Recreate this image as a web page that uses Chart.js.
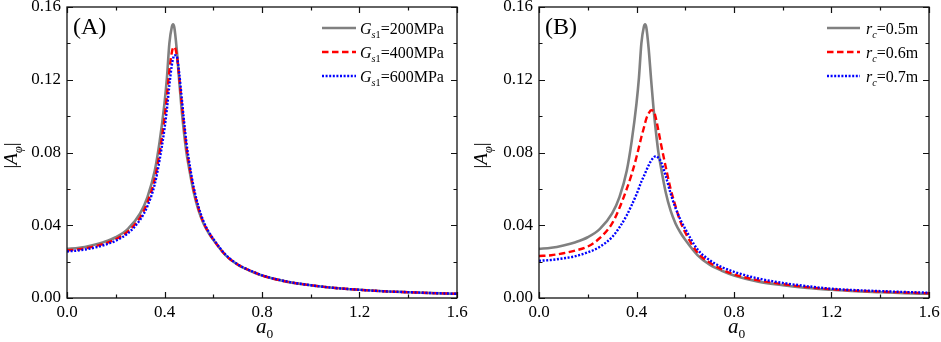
<!DOCTYPE html>
<html>
<head>
<meta charset="utf-8">
<title>|A_phi| vs a0</title>
<script src="https://cdn.jsdelivr.net/npm/chart.js@4.4.1/dist/chart.umd.min.js"></script>
<style>
  html, body { margin: 0; padding: 0; background: #fff; }
  #wrap { position: relative; width: 941px; height: 342px; }
  canvas { position: absolute; top: 0; }
  #chartA { left: 0; }
  #chartB { left: 470px; }
</style>
</head>
<body>
<div id="wrap">
  <canvas id="chartA" width="470" height="342"></canvas>
  <canvas id="chartB" width="471" height="342"></canvas>
</div>
<script>
// dimensionless frequency a0 (shared by all curves)
const a0 = [0, 0.05, 0.1, 0.15, 0.2, 0.25, 0.3, 0.33, 0.36, 0.38, 0.4, 0.41, 0.42, 0.43, 0.435, 0.44,
  0.45, 0.46, 0.47, 0.48, 0.49, 0.5, 0.52, 0.54, 0.56, 0.58, 0.6, 0.65, 0.7, 0.75, 0.8, 0.9, 1.0,
  1.1, 1.2, 1.3, 1.4, 1.5, 1.6];

// (A) shear modulus Gs1
const gs200 = [0.0270, 0.0276, 0.0289, 0.0307, 0.0334, 0.0380, 0.0465, 0.0555, 0.0700, 0.0860, 0.1070,
  0.1210, 0.1400, 0.1490, 0.1505, 0.1490, 0.1370, 0.1200, 0.1040, 0.0910, 0.0800, 0.0720, 0.0580,
  0.0480, 0.0410, 0.0360, 0.0320, 0.0236, 0.0183, 0.0150, 0.0124, 0.0090, 0.0070, 0.0055, 0.0045,
  0.0037, 0.0032, 0.0027, 0.0023];
const gs400 = [0.0262, 0.0268, 0.0280, 0.0297, 0.0323, 0.0366, 0.0443, 0.0525, 0.0655, 0.0800, 0.0990,
  0.1110, 0.1250, 0.1350, 0.1375, 0.1380, 0.1340, 0.1220, 0.1080, 0.0950, 0.0830, 0.0740, 0.0595,
  0.0490, 0.0415, 0.0363, 0.0322, 0.0237, 0.0184, 0.0151, 0.0124, 0.0090, 0.0070, 0.0055, 0.0045,
  0.0037, 0.0032, 0.0027, 0.0023];
const gs600 = [0.0256, 0.0262, 0.0273, 0.0290, 0.0315, 0.0356, 0.0430, 0.0505, 0.0625, 0.0760, 0.0930,
  0.1040, 0.1170, 0.1280, 0.1315, 0.1335, 0.1330, 0.1240, 0.1110, 0.0975, 0.0855, 0.0760, 0.0608,
  0.0500, 0.0422, 0.0367, 0.0325, 0.0239, 0.0185, 0.0152, 0.0125, 0.0091, 0.0070, 0.0055, 0.0045,
  0.0037, 0.0032, 0.0027, 0.0023];

// (B) radius rc  (rc = 0.5 m is the same base case as Gs1 = 200 MPa)
const rc05 = gs200;
const rc06 = [0.0231, 0.0235, 0.0246, 0.0261, 0.0283, 0.0330, 0.0410, 0.0495, 0.0600, 0.0680, 0.0775,
  0.0830, 0.0885, 0.0935, 0.0960, 0.0985, 0.1015, 0.1032, 0.1030, 0.0985, 0.0920, 0.0850, 0.0720,
  0.0600, 0.0505, 0.0420, 0.0360, 0.0250, 0.0195, 0.0157, 0.0130, 0.0097, 0.0076, 0.0060, 0.0048,
  0.0040, 0.0035, 0.0030, 0.0026];
const rc07 = [0.0205, 0.0209, 0.0218, 0.0230, 0.0251, 0.0282, 0.0335, 0.0388, 0.0455, 0.0510, 0.0570,
  0.0605, 0.0640, 0.0670, 0.0685, 0.0700, 0.0730, 0.0755, 0.0772, 0.0780, 0.0770, 0.0750, 0.0670,
  0.0575, 0.0495, 0.0432, 0.0380, 0.0268, 0.0208, 0.0170, 0.0144, 0.0107, 0.0083, 0.0065, 0.0051,
  0.0043, 0.0038, 0.0033, 0.0029];

const labelsA = ['200MPa', '400MPa', '600MPa'];
const labelsB = ['0.5m', '0.6m', '0.7m'];

const xTicks = { min: 0, max: 1.6, step: 0.2 };
const yTicks = { min: 0, max: 0.16, step: 0.02 };

const SERIF = '"Liberation Serif", "Times New Roman", serif';
const styles = [
  { color: 'rgb(128,128,128)', dash: [], width: 2.6 },
  { color: '#ff0000', dash: [6.5, 3.5], width: 2.4 },
  { color: '#0000ff', dash: [2, 1.6], width: 2.4 }
];

// draws text made of parts (italic / subscript), returns end x
function drawRich(ctx, x, y, parts, size) {
  parts.forEach(p => {
    const s = p.sub ? size * 0.64 : size;
    ctx.font = (p.it ? 'italic ' : '') + s + 'px ' + SERIF;
    ctx.fillText(p.t, x, p.sub ? y + size * 0.26 : y);
    x += ctx.measureText(p.t).width;
  });
  return x;
}

const framePlugin = {
  id: 'frame',
  afterDraw(chart, args, o) {
    const { ctx, chartArea: a, scales } = chart;
    ctx.save();
    ctx.strokeStyle = '#111';
    ctx.lineWidth = 1.3;
    ctx.strokeRect(a.left, a.top, a.right - a.left, a.bottom - a.top);

    // inward ticks on all four sides, major every second step
    ctx.lineWidth = 1.2;
    ctx.beginPath();
    scales.x.ticks.forEach(t => {
      const px = Math.round(scales.x.getPixelForValue(t.value)) + 0.5;
      const len = Math.round(t.value / xTicks.step) % 2 === 0 ? 6 : 3.5;
      ctx.moveTo(px, a.bottom); ctx.lineTo(px, a.bottom - len);
      ctx.moveTo(px, a.top); ctx.lineTo(px, a.top + len);
    });
    scales.y.ticks.forEach(t => {
      const py = Math.round(scales.y.getPixelForValue(t.value)) + 0.5;
      const len = Math.round(t.value / yTicks.step) % 2 === 0 ? 6 : 3.5;
      ctx.moveTo(a.left, py); ctx.lineTo(a.left + len, py);
      ctx.moveTo(a.right, py); ctx.lineTo(a.right - len, py);
    });
    ctx.stroke();

    ctx.fillStyle = '#000';
    ctx.textBaseline = 'alphabetic';
    ctx.textAlign = 'left';

    // panel tag
    ctx.font = '24px ' + SERIF;
    ctx.fillText(o.tag, a.left + 6, 34);

    // legend
    chart.data.datasets.forEach((ds, i) => {
      const y = o.legend.rows[i];
      ctx.save();
      ctx.strokeStyle = ds.borderColor;
      ctx.lineWidth = ds.borderWidth;
      ctx.setLineDash(ds.borderDash);
      ctx.beginPath();
      ctx.moveTo(o.legend.x1, y);
      ctx.lineTo(o.legend.x2, y);
      ctx.stroke();
      ctx.restore();
      drawRich(ctx, o.legend.tx, y + 5.5, o.legend.symbol.concat([{ t: '=' + o.legend.labels[i] }]), 16);
    });

    // x title a0
    const cx = (a.left + a.right) / 2;
    drawRich(ctx, cx - 6, 333, [{ t: 'a', it: 1 }, { t: '0', sub: 1 }], 21);

    // y title |A_phi|
    ctx.save();
    ctx.translate(o.yTitleX, (a.top + a.bottom) / 2 + 3);
    ctx.rotate(-Math.PI / 2);
    const parts = [{ t: '|' }, { t: 'A', it: 1 }, { t: 'φ', it: 1, sub: 1 }, { t: '|' }];
    let w = 0;
    parts.forEach(p => {
      ctx.font = (p.it ? 'italic ' : '') + (p.sub ? 19 * 0.64 : 19) + 'px ' + SERIF;
      w += ctx.measureText(p.t).width;
    });
    drawRich(ctx, -w / 2, 0, parts, 19);
    ctx.restore();

    ctx.restore();
  }
};

function makeChart(id, series, extra) {
  const datasets = series.map((vals, i) => ({
    data: a0.map((x, k) => ({ x: x, y: vals[k] })),
    borderColor: styles[i].color,
    borderDash: styles[i].dash,
    borderWidth: styles[i].width,
    pointRadius: 0,
    fill: false,
    cubicInterpolationMode: 'monotone',
    order: series.length - i
  }));

  const tickFont = { family: SERIF, size: 17, lineHeight: 0.82 };

  return new Chart(document.getElementById(id), {
    type: 'line',
    data: { datasets: datasets },
    options: {
      responsive: false,
      animation: false,
      layout: { padding: { top: 7, right: extra.padRight, left: 0, bottom: 0 } },
      plugins: {
        legend: { display: false },
        tooltip: { enabled: false },
        frame: extra
      },
      scales: {
        x: {
          type: 'linear',
          min: xTicks.min,
          max: xTicks.max,
          grid: { display: false, drawTicks: false },
          border: { display: false },
          ticks: {
            stepSize: xTicks.step,
            autoSkip: false,
            maxRotation: 0,
            padding: 8,
            color: '#000',
            font: tickFont,
            callback: v => {
              const n = Math.round(v / xTicks.step);
              return n % 2 === 0 ? (n * xTicks.step).toFixed(1) : '';
            }
          },
          afterFit: s => {
            s.height = 44;
            s.paddingLeft = 0;
            s.paddingRight = 0;
          }
        },
        y: {
          min: yTicks.min,
          max: yTicks.max,
          grid: { display: false, drawTicks: false },
          border: { display: false },
          ticks: {
            stepSize: yTicks.step,
            autoSkip: false,
            padding: 6,
            color: '#000',
            font: tickFont,
            callback: v => {
              const n = Math.round(v / yTicks.step);
              return n % 2 === 0 ? (n * yTicks.step).toFixed(2) : '';
            }
          },
          afterFit: s => {
            s.width = extra.axisWidth;
            s.paddingTop = 0;
            s.paddingBottom = 0;
          }
        }
      }
    },
    plugins: [framePlugin]
  });
}

makeChart('chartA', [gs200, gs400, gs600], {
  tag: '(A)',
  axisWidth: 67,
  padRight: 13,
  yTitleX: 17,
  legend: {
    rows: [28, 52, 76], x1: 322, x2: 356, tx: 360, labels: labelsA,
    symbol: [{ t: 'G', it: 1 }, { t: 's', it: 1, sub: 1 }, { t: '1', sub: 1 }]
  }
});

makeChart('chartB', [rc05, rc06, rc07], {
  tag: '(B)',
  axisWidth: 69,
  padRight: 12,
  yTitleX: 17,
  legend: {
    rows: [28, 52, 76], x1: 357, x2: 390, tx: 396, labels: labelsB,
    symbol: [{ t: 'r', it: 1 }, { t: 'c', it: 1, sub: 1 }]
  }
});
</script>
</body>
</html>
